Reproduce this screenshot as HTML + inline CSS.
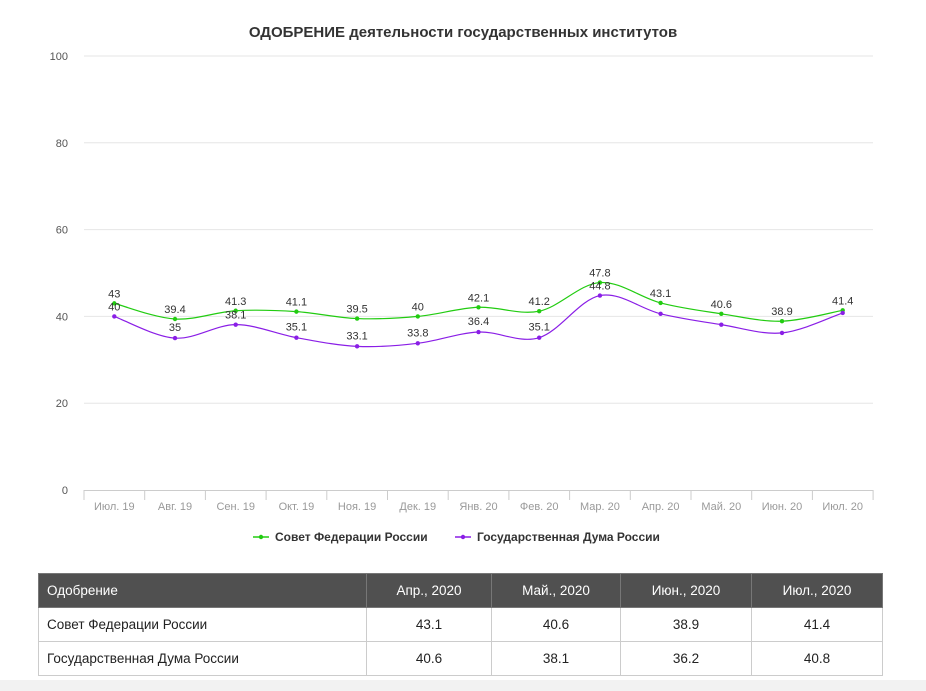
<!DOCTYPE html>
<html><head><meta charset="utf-8">
<style>
body{margin:0;width:926px;height:691px;background:#fff;font-family:"Liberation Sans","DejaVu Sans",sans-serif;position:relative;overflow:hidden}
svg{position:absolute;left:0;top:0}
table{position:absolute;left:38px;top:573px;width:845px;border-collapse:collapse;font-size:13.5px;color:#222}
td,th{border:1px solid #ccc;height:33px;padding:0 8px;text-align:center;font-weight:normal}
th{background:#505050;color:#fff;border-color:#777}
td:first-child,th:first-child{text-align:left}
.strip{position:absolute;left:0;top:680px;width:926px;height:11px;background:#f2f2f2}
</style></head><body>
<svg id="c" width="926" height="560" font-family="Liberation Sans, DejaVu Sans, sans-serif"></svg>
<table>
<tr><th style="width:311px">Одобрение</th><th style="width:108px">Апр., 2020</th><th style="width:112px">Май., 2020</th><th style="width:114px">Июн., 2020</th><th>Июл., 2020</th></tr>
<tr><td>Совет Федерации России</td><td>43.1</td><td>40.6</td><td>38.9</td><td>41.4</td></tr>
<tr><td>Государственная Дума России</td><td>40.6</td><td>38.1</td><td>36.2</td><td>40.8</td></tr>
</table>
<div class="strip"></div>
<script>
var s='';
var Y=function(v){return 490-v*4.34};
var X=function(i){return 114.3+i*60.7};
s+='<text x="463" y="37" text-anchor="middle" font-size="15" font-weight="bold" fill="#333">ОДОБРЕНИЕ деятельности государственных институтов</text>';
for(var v=0;v<=100;v+=20){var y=Y(v);
 if(v>0)s+='<line x1="84" x2="873" y1="'+y+'" y2="'+y+'" stroke="#e6e6e6"/>';
 s+='<text x="68" y="'+(y+4)+'" text-anchor="end" font-size="11" fill="#555">'+v+'</text>';}
s+='<line x1="84" x2="873" y1="490.5" y2="490.5" stroke="#ccc"/>';
var L=['Июл. 19','Авг. 19','Сен. 19','Окт. 19','Ноя. 19','Дек. 19','Янв. 20','Фев. 20','Мар. 20','Апр. 20','Май. 20','Июн. 20','Июл. 20'];
for(var i=0;i<=13;i++){var x=84+i*60.7;s+='<line x1="'+x+'" x2="'+x+'" y1="490" y2="500" stroke="#ccc"/>';}
L.forEach(function(t,i){s+='<text x="'+X(i)+'" y="510" text-anchor="middle" font-size="11" fill="#999">'+t+'</text>';});
var A=[43,39.4,41.3,41.1,39.5,40,42.1,41.2,47.8,43.1,40.6,38.9,41.4];
var B=[40,35,38.1,35.1,33.1,33.8,36.4,35.1,44.8,40.6,38.1,36.2,40.8];
function path(d){var p=d.map(function(v,i){return[X(i),Y(v)]});var r='M'+p[0][0]+','+p[0][1];
 for(var i=0;i<p.length-1;i++){var p0=p[i-1]||p[i],p1=p[i],p2=p[i+1],p3=p[i+2]||p2;
 r+=' C'+(p1[0]+(p2[0]-p0[0])/6)+','+(p1[1]+(p2[1]-p0[1])/6)+' '+(p2[0]-(p3[0]-p1[0])/6)+','+(p2[1]-(p3[1]-p1[1])/6)+' '+p2[0]+','+p2[1];}return r;}
function ser(d,c,lab){s+='<path d="'+path(d)+'" fill="none" stroke="'+c+'" stroke-width="1.2"/>';
 d.forEach(function(v,i){s+='<circle cx="'+X(i)+'" cy="'+Y(v)+'" r="2.2" fill="'+c+'"/>';
 if(lab)s+='<text x="'+X(i)+'" y="'+(Y(v)-6)+'" text-anchor="middle" font-size="11" fill="#333">'+v+'</text>';});}
ser(A,'#22cc11',true);ser(B,'#8a1ee6',false);
B.forEach(function(v,i){var dy=(i==0||i==2||i==8)?-6:-7;if(i>=9)return;s+='<text x="'+X(i)+'" y="'+(Y(v)+dy)+'" text-anchor="middle" font-size="11" fill="#333">'+v+'</text>';});
s+='<line x1="253" x2="269" y1="537" y2="537" stroke="#22cc11" stroke-width="1.5"/><circle cx="261" cy="537" r="2.2" fill="#22cc11"/>';
s+='<text x="275" y="541" font-size="12" font-weight="bold" fill="#333">Совет Федерации России</text>';
s+='<line x1="455" x2="471" y1="537" y2="537" stroke="#8a1ee6" stroke-width="1.5"/><circle cx="463" cy="537" r="2.2" fill="#8a1ee6"/>';
s+='<text x="477" y="541" font-size="12" font-weight="bold" fill="#333">Государственная Дума России</text>';
document.getElementById('c').innerHTML=s;
</script>
</body></html>
